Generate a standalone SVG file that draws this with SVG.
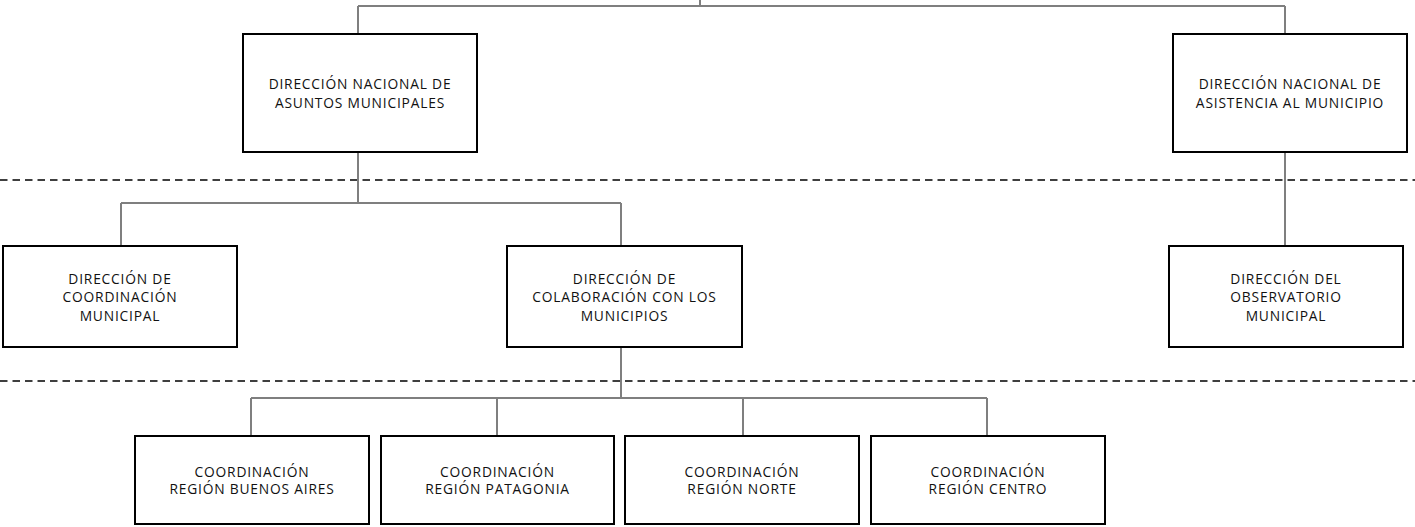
<svg xmlns="http://www.w3.org/2000/svg" width="1415" height="527" viewBox="0 0 1415 527">
<style>
.box{fill:#fff;stroke:#000;stroke-width:2}
.conn{fill:none;stroke:#7f7f7f;stroke-width:2}
.dash{fill:none;stroke:#000;stroke-width:1.5;stroke-dasharray:7.5 5}
.t{font-family:"Open Sans","Noto Sans",sans-serif;font-size:13.8px;fill:#111;text-anchor:middle;letter-spacing:0.8px}
</style>
<rect width="1415" height="527" fill="#fff"/>
<g id="separators">
<path class="dash" d="M0,180 H1415"/>
<path class="dash" d="M0,381 H1415"/>
</g>
<g id="connectors">
<path class="conn" d="M700,0 V6 M358,6 H1285 M358,6 V34 M1285,6 V34"/>
<path class="conn" d="M358,152 V203 M121,203 H621 M121,203 V246 M621,203 V246"/>
<path class="conn" d="M1285,152 V246"/>
<path class="conn" d="M621,347 V398 M251,398 H987 M251,398 V436 M497,398 V436 M743,398 V436 M987,398 V436"/>
</g>
<g id="node-dn-asuntos">
<rect class="box" x="243" y="34" width="234" height="118"/>
<text class="t" x="360" y="88.5">DIRECCIÓN NACIONAL DE</text>
<text class="t" x="360" y="107.5">ASUNTOS MUNICIPALES</text>
</g>
<g id="node-dn-asistencia">
<rect class="box" x="1173" y="34" width="234" height="118"/>
<text class="t" x="1290" y="88.5">DIRECCIÓN NACIONAL DE</text>
<text class="t" x="1290" y="107.5">ASISTENCIA AL MUNICIPIO</text>
</g>
<g id="node-d-coordinacion">
<rect class="box" x="3" y="246" width="234" height="101"/>
<text class="t" x="120" y="283.5">DIRECCIÓN DE</text>
<text class="t" x="120" y="302">COORDINACIÓN</text>
<text class="t" x="120" y="320.5">MUNICIPAL</text>
</g>
<g id="node-d-colaboracion">
<rect class="box" x="507" y="246" width="235" height="101"/>
<text class="t" x="624.5" y="283.5">DIRECCIÓN DE</text>
<text class="t" x="624.5" y="302">COLABORACIÓN CON LOS</text>
<text class="t" x="624.5" y="320.5">MUNICIPIOS</text>
</g>
<g id="node-d-observatorio">
<rect class="box" x="1169" y="246" width="234" height="101"/>
<text class="t" x="1286" y="283.5">DIRECCIÓN DEL</text>
<text class="t" x="1286" y="302">OBSERVATORIO</text>
<text class="t" x="1286" y="320.5">MUNICIPAL</text>
</g>
<g id="node-c-buenos-aires">
<rect class="box" x="135" y="436" width="234" height="88"/>
<text class="t" x="252" y="477">COORDINACIÓN</text>
<text class="t" x="252" y="493.5">REGIÓN BUENOS AIRES</text>
</g>
<g id="node-c-patagonia">
<rect class="box" x="381" y="436" width="233" height="88"/>
<text class="t" x="497.5" y="477">COORDINACIÓN</text>
<text class="t" x="497.5" y="493.5">REGIÓN PATAGONIA</text>
</g>
<g id="node-c-norte">
<rect class="box" x="625" y="436" width="234" height="88"/>
<text class="t" x="742" y="477">COORDINACIÓN</text>
<text class="t" x="742" y="493.5">REGIÓN NORTE</text>
</g>
<g id="node-c-centro">
<rect class="box" x="871" y="436" width="234" height="88"/>
<text class="t" x="988" y="477">COORDINACIÓN</text>
<text class="t" x="988" y="493.5">REGIÓN CENTRO</text>
</g>
</svg>
